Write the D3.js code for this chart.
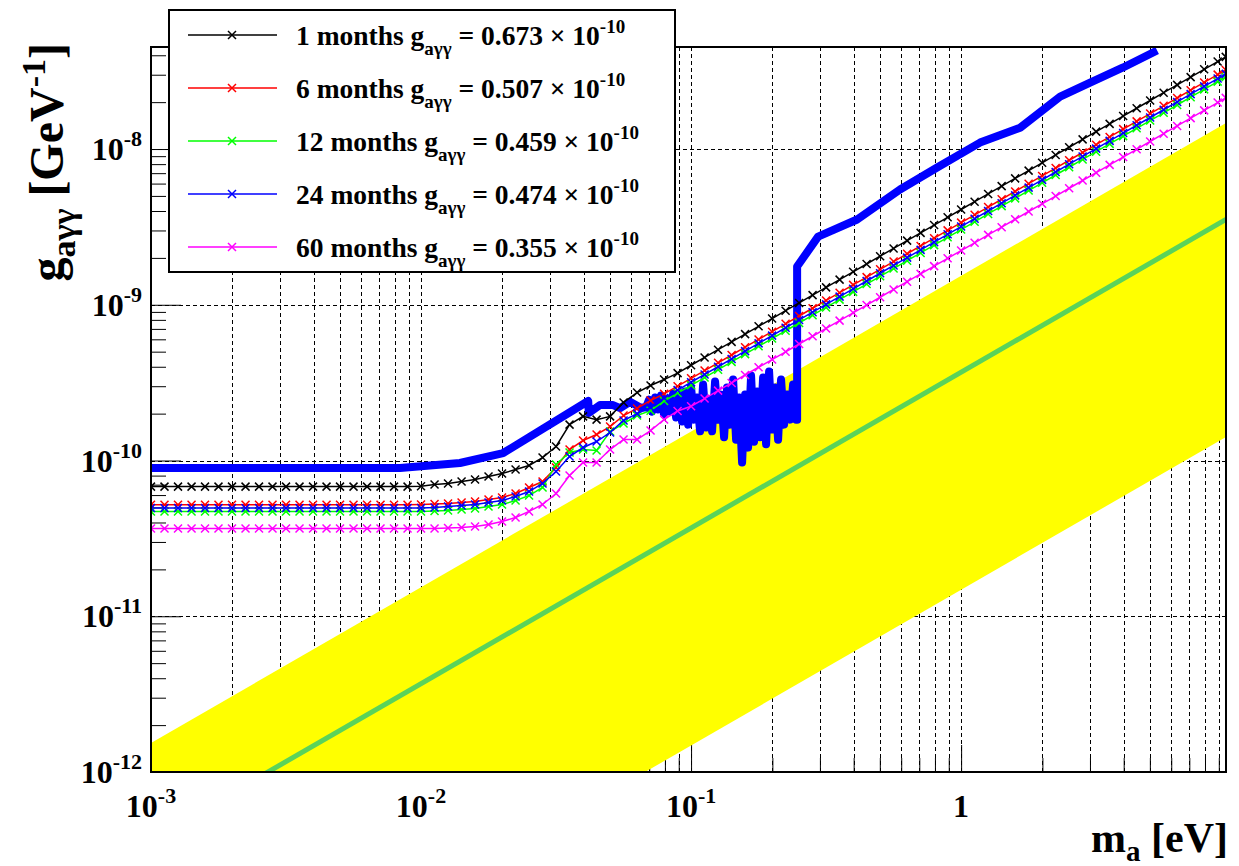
<!DOCTYPE html>
<html>
<head>
<meta charset="utf-8">
<script src="https://d3js.org/d3.v7.min.js"></script>
<style>
  body { margin: 0; background: #fff; }
</style>
</head>
<body>
<svg id="chart" width="1239" height="866"></svg>
<script>
// ---- data (axion mass in eV, coupling in units of 1e-10 GeV^-1) ----
var massGrid = [
  0.001, 0.001122, 0.001259, 0.001413, 0.001585, 0.001778, 0.001995, 0.002239, 0.002512, 0.002818,
  0.003162, 0.003548, 0.003981, 0.004467, 0.005012, 0.005623, 0.00631, 0.007079, 0.007943, 0.008913,
  0.01, 0.01122, 0.01259, 0.01413, 0.01585, 0.01778, 0.01995, 0.02239, 0.02512, 0.02818,
  0.03162, 0.03548, 0.03981, 0.04467, 0.05012, 0.05623, 0.0631, 0.07079, 0.07943, 0.08913,
  0.1, 0.1122, 0.1259, 0.1413, 0.1585, 0.1778, 0.1995, 0.2239, 0.2512, 0.2818,
  0.3162, 0.3548, 0.3981, 0.4467, 0.5012, 0.5623, 0.631, 0.7079, 0.7943, 0.8913,
  1, 1.122, 1.259, 1.413, 1.585, 1.778, 1.995, 2.239, 2.512, 2.818,
  3.162, 3.548, 3.981, 4.467, 5.012, 5.623, 6.31, 7.079, 7.943, 8.913, 9.55
];

var g1m = [
  0.68, 0.68, 0.68, 0.68, 0.68, 0.68, 0.68, 0.68, 0.68, 0.68, 0.68, 0.68, 0.68, 0.68, 0.68, 0.68, 0.68, 0.68, 0.68, 0.68,
  0.684, 0.701, 0.712, 0.733, 0.755, 0.789, 0.825, 0.875, 0.929, 1.045, 1.23, 1.70, 1.92, 1.83, 1.92, 2.36, 2.73, 3.03, 3.31, 3.64,
  4.09, 4.59, 5.15, 5.78, 6.48, 7.27, 8.16, 9.16, 10.27, 11.53, 12.93, 14.51, 16.28, 18.27, 20.5, 23.0, 25.81, 28.95, 32.49, 36.45,
  40.9, 45.9, 51.5, 57.8, 64.8, 72.7, 81.6, 91.6, 102.7, 115.3, 129.3, 145.1, 162.8, 182.7, 205.0, 230.0, 258.1, 289.5, 324.9, 364.5, 390.6
];
var g6m = [
  0.52, 0.52, 0.52, 0.52, 0.52, 0.52, 0.52, 0.52, 0.52, 0.52, 0.52, 0.52, 0.52, 0.52, 0.52, 0.52, 0.52, 0.52, 0.52, 0.52,
  0.522, 0.526, 0.53, 0.538, 0.545, 0.562, 0.579, 0.614, 0.671, 0.733, 0.902, 1.176, 1.344, 1.47, 1.653, 1.945, 2.16, 2.43, 2.68, 3.0,
  3.37, 3.78, 4.24, 4.76, 5.34, 5.99, 6.72, 7.55, 8.47, 9.5, 10.66, 11.96, 13.42, 15.05, 16.89, 18.95, 21.26, 23.86, 26.77, 30.04,
  33.7, 37.8, 42.4, 47.6, 53.4, 59.9, 67.2, 75.5, 84.7, 95.0, 106.6, 119.6, 134.2, 150.5, 168.9, 189.5, 212.6, 238.6, 267.7, 300.4, 321.8
];
var g12m = [
  0.47, 0.47, 0.47, 0.47, 0.47, 0.47, 0.47, 0.47, 0.47, 0.47, 0.47, 0.47, 0.47, 0.47, 0.47, 0.47, 0.47, 0.47, 0.47, 0.47,
  0.471, 0.474, 0.478, 0.485, 0.492, 0.506, 0.522, 0.553, 0.596, 0.671, 0.943, 1.126, 1.176, 1.16, 1.535, 1.727, 1.945, 2.09, 2.41, 2.71,
  3.04, 3.41, 3.83, 4.3, 4.82, 5.41, 6.07, 6.81, 7.64, 8.57, 9.61, 10.79, 12.1, 13.58, 15.24, 17.09, 19.18, 21.52, 24.15, 27.1,
  30.4, 34.1, 38.3, 43.0, 48.2, 54.1, 60.7, 68.1, 76.4, 85.7, 96.1, 107.9, 121.0, 135.8, 152.4, 170.9, 191.8, 215.2, 241.5, 271.0, 290.3
];
var g24m = [
  0.495, 0.495, 0.495, 0.495, 0.495, 0.495, 0.495, 0.495, 0.495, 0.495, 0.495, 0.495, 0.495, 0.495, 0.495, 0.495, 0.495, 0.495, 0.495, 0.495,
  0.496, 0.499, 0.506, 0.514, 0.522, 0.538, 0.553, 0.587, 0.632, 0.712, 0.85, 1.061, 1.212, 1.324, 1.513, 1.807, 2.0, 2.19, 2.52, 2.83,
  3.18, 3.57, 4.0, 4.49, 5.04, 5.65, 6.34, 7.12, 7.99, 8.96, 10.06, 11.28, 12.66, 14.21, 15.94, 17.88, 20.07, 22.51, 25.26, 28.34,
  31.8, 35.7, 40.0, 44.9, 50.4, 56.5, 63.4, 71.2, 79.9, 89.6, 100.6, 112.8, 126.6, 142.1, 159.4, 178.8, 200.7, 225.1, 252.6, 283.4, 303.7
];
var g60m = [
  0.366, 0.366, 0.366, 0.366, 0.366, 0.366, 0.366, 0.366, 0.366, 0.366, 0.366, 0.366, 0.366, 0.366, 0.366, 0.366, 0.366, 0.366, 0.366, 0.366,
  0.366, 0.366, 0.369, 0.371, 0.377, 0.388, 0.406, 0.431, 0.471, 0.522, 0.614, 0.801, 0.971, 0.971, 1.176, 1.364, 1.364, 1.557, 1.833, 2.08,
  2.23, 2.5, 2.81, 3.15, 3.54, 3.97, 4.45, 4.99, 5.6, 6.28, 7.05, 7.91, 8.88, 9.96, 11.18, 12.54, 14.07, 15.79, 17.71, 19.88,
  22.3, 25.0, 28.1, 31.5, 35.4, 39.7, 44.5, 49.9, 56.0, 62.8, 70.5, 79.1, 88.8, 99.6, 111.8, 125.4, 140.7, 157.9, 177.1, 198.8, 213.0
];

// thick blue limit curve
var limitMass = [
  0.001, 0.00836, 0.01393, 0.02014, 0.0416, 0.0418, 0.046, 0.0514, 0.0546, 0.0594, 0.0648,
  0.0681, 0.0699, 0.0717, 0.0736, 0.0755, 0.0774, 0.0794, 0.0815, 0.0836, 0.0858, 0.088, 0.0903, 0.0926, 0.095,
  0.0975, 0.1, 0.1026, 0.1052, 0.108, 0.1108, 0.1137, 0.1166, 0.1196, 0.1227, 0.1259, 0.1292, 0.1325, 0.1359,
  0.1395, 0.1431, 0.1468, 0.1506, 0.1545, 0.1585, 0.1626, 0.1668, 0.1711, 0.1756, 0.1802, 0.1848, 0.1896, 0.1945,
  0.1995, 0.2047, 0.21, 0.2154, 0.221, 0.2268, 0.2326, 0.2387, 0.2449, 0.247,
  0.247, 0.2954, 0.412, 0.594, 0.815, 1.175, 1.654, 2.326, 3.004, 3.98, 5.32
];
var limitG = [
  0.895, 0.895, 0.964, 1.117, 2.41, 2.02, 2.27, 2.27, 2.17, 2.38, 2.19,
  2.19, 2.46, 2.06, 2.54, 2.13, 2.61, 1.97, 2.46, 2.06, 2.69, 1.89, 2.54, 1.78, 2.77,
  1.7, 2.94, 1.83, 2.54, 1.54, 3.08, 1.63, 2.46, 1.54, 3.22, 1.83, 2.65, 1.41, 2.94,
  1.7, 3.31, 1.36, 2.54, 0.97, 2.65, 1.21, 3.51, 1.32, 2.77, 1.41, 3.41, 1.27, 3.73,
  1.58, 2.94, 1.36, 3.31, 1.7, 2.65, 1.83, 3.08, 1.83, 1.83,
  17.6, 27.4, 35.3, 55.0, 76.1, 110, 137, 217, 267, 334, 429
];

// QCD axion band (GeV^-1)
var bandMass = [0.001, 9.57];
var bandUpper = [1.535e-12, 1.469e-8];
var bandLower = [1.48e-14, 1.416e-10];
var bandCentre = [3.69e-13, 3.53e-9];

var seriesNames = ["1 months", "6 months", "12 months", "24 months", "60 months"];
var seriesValues = ["0.673", "0.507", "0.459", "0.474", "0.355"];
var seriesColors = ["#000000", "#ff0000", "#00ff00", "#0000ff", "#ff00ff"];
var seriesData = [g1m, g6m, g12m, g24m, g60m];

var xMajor = [1e-3, 1e-2, 1e-1, 1];
var xMajorExp = ["-3", "-2", "-1", ""];
var yMajor = [1e-12, 1e-11, 1e-10, 1e-9, 1e-8];
var yMajorExp = ["-12", "-11", "-10", "-9", "-8"];

// ---- layout ----
var svg = d3.select("#chart");
var L = 151, R = 1226, T = 47, B = 772;

var x = d3.scaleLog().domain([1e-3, 9.57]).range([L, R]);
var y = d3.scaleLog().domain([1e-12, 4.52e-8]).range([B, T]);

// font set on every text and tspan node
function fontify(sel, size) {
  return sel.style("font-family", '"Liberation Serif", "Times New Roman", serif')
    .style("font-weight", "bold").style("font-size", size + "px");
}
function addSpan(t, txt, size, dy) {
  var s = fontify(t.append("tspan"), size).text(txt);
  if (dy) s.attr("dy", dy);
  return s;
}

svg.append("rect").attr("width", 1239).attr("height", 866).attr("fill", "#fff");

svg.append("clipPath").attr("id", "plotclip")
  .append("rect").attr("x", L).attr("y", T).attr("width", R - L).attr("height", B - T);

// grid
var xAll = x.ticks().filter(function(v) { return v > 1.001e-3 && v < 9.5; });
svg.append("g").selectAll("line").data(xAll).enter().append("line")
  .attr("x1", function(d) { return Math.round(x(d)) + 0.5; })
  .attr("x2", function(d) { return Math.round(x(d)) + 0.5; })
  .attr("y1", T).attr("y2", B)
  .attr("stroke", "#000").attr("stroke-width", 1).attr("stroke-dasharray", "4,3");
svg.append("g").selectAll("line").data(yMajor.slice(1)).enter().append("line")
  .attr("y1", function(d) { return Math.round(y(d)) + 0.5; })
  .attr("y2", function(d) { return Math.round(y(d)) + 0.5; })
  .attr("x1", L).attr("x2", R)
  .attr("stroke", "#000").attr("stroke-width", 1).attr("stroke-dasharray", "4,3");

// ticks
function tickAxis(axis, tr) {
  var g = svg.append("g").attr("transform", tr).call(axis);
  g.select(".domain").remove();
  g.selectAll("line").attr("stroke", "#000").attr("stroke-width", 1);
  g.selectAll("text").remove();
  return g;
}
var xMinor = xAll.filter(function(v) { return xMajor.indexOf(v) < 0; });
tickAxis(d3.axisBottom(x).tickValues(xMajor).tickSize(-27), "translate(0," + B + ")");
tickAxis(d3.axisBottom(x).tickValues(xMinor).tickSize(-14), "translate(0," + B + ")");
var yAll = y.ticks().filter(function(v) { return v < 4.5e-8; });
var yMinor = yAll.filter(function(v) { return yMajor.indexOf(v) < 0; });
tickAxis(d3.axisLeft(y).tickValues(yMajor).tickSize(-30), "translate(" + L + ",0)");
tickAxis(d3.axisLeft(y).tickValues(yMinor).tickSize(-15), "translate(" + L + ",0)");

var plot = svg.append("g").attr("clip-path", "url(#plotclip)");

// yellow band
var bandArea = d3.area()
  .x(function(d, i) { return x(bandMass[i]); })
  .y0(function(d, i) { return y(bandLower[i]); })
  .y1(function(d, i) { return y(bandUpper[i]); });
plot.append("path").attr("d", bandArea(bandMass)).attr("fill", "#ffff00");

plot.append("path")
  .attr("d", d3.line().x(function(d, i) { return x(bandMass[i]); }).y(function(d) { return y(d); })(bandCentre))
  .attr("fill", "none").attr("stroke", "#5ad35a").attr("stroke-width", 5);

// thick blue limit
plot.append("path")
  .attr("d", d3.line().x(function(d, i) { return x(limitMass[i]); }).y(function(d) { return y(d * 1e-10); })(limitG))
  .attr("fill", "none").attr("stroke", "#0000ff").attr("stroke-width", 8).attr("stroke-linejoin", "round");

// sensitivity series
var xMark = "M-4,-4L4,4M-4,4L4,-4";
var line = d3.line().x(function(d, i) { return x(massGrid[i]); }).y(function(d) { return y(d * 1e-10); });
seriesData.forEach(function(vals, k) {
  plot.append("path").attr("d", line(vals))
    .attr("fill", "none").attr("stroke", seriesColors[k]).attr("stroke-width", 1.5);
  plot.append("g").selectAll("path").data(vals).enter().append("path")
    .attr("transform", function(d, i) { return "translate(" + x(massGrid[i]) + "," + y(d * 1e-10) + ")"; })
    .attr("d", xMark).attr("stroke", seriesColors[k]).attr("stroke-width", 1.5).attr("fill", "none");
});

// frame
svg.append("rect").attr("x", L).attr("y", T).attr("width", R - L).attr("height", B - T)
  .attr("fill", "none").attr("stroke", "#000").attr("stroke-width", 2);

// tick labels
xMajor.forEach(function(v, i) {
  var t = fontify(svg.append("text"), 32).attr("x", x(v)).attr("y", 817).attr("text-anchor", "middle");
  if (xMajorExp[i] === "") { addSpan(t, "1", 32); return; }
  addSpan(t, "10", 32);
  addSpan(t, xMajorExp[i], 22, -14);
});
yMajor.forEach(function(v, i) {
  var t = fontify(svg.append("text"), 32).attr("x", 142).attr("y", y(v) + 11).attr("text-anchor", "end");
  addSpan(t, "10", 32);
  addSpan(t, yMajorExp[i], 22, -14);
});

// axis titles
var xt = fontify(svg.append("text"), 42).attr("x", 1228).attr("y", 852).attr("text-anchor", "end");
addSpan(xt, "m", 42);
addSpan(xt, "a", 29, 9);
addSpan(xt, " [eV]", 42, -9);

var yt = fontify(svg.append("text"), 48).attr("transform", "translate(63,43) rotate(-90)").attr("text-anchor", "end");
addSpan(yt, "g", 48);
addSpan(yt, "a\u03b3\u03b3", 34, 12);
addSpan(yt, " [GeV", 48, -12);
addSpan(yt, "-1", 34, -18);
addSpan(yt, "]", 48, 18);

// legend
var lg = svg.append("g");
lg.append("rect").attr("x", 169).attr("y", 10).attr("width", 506).attr("height", 262)
  .attr("fill", "#fff").attr("stroke", "#000").attr("stroke-width", 2);
var rowY = [35, 88, 141, 194, 247];
seriesNames.forEach(function(name, k) {
  var ry = rowY[k];
  lg.append("line").attr("x1", 188).attr("x2", 277).attr("y1", ry).attr("y2", ry)
    .attr("stroke", seriesColors[k]).attr("stroke-width", 1.5);
  lg.append("path").attr("transform", "translate(232," + ry + ")").attr("d", xMark)
    .attr("stroke", seriesColors[k]).attr("stroke-width", 1.5).attr("fill", "none");
  var t = fontify(lg.append("text"), 27.5).attr("x", 296).attr("y", ry + 10);
  addSpan(t, name + " g", 27.5);
  addSpan(t, "a\u03b3\u03b3", 19, 10);
  addSpan(t, " = " + seriesValues[k] + " \u00d7 10", 27.5, -10);
  addSpan(t, "-10", 19, -12);
});
</script>
</body>
</html>
